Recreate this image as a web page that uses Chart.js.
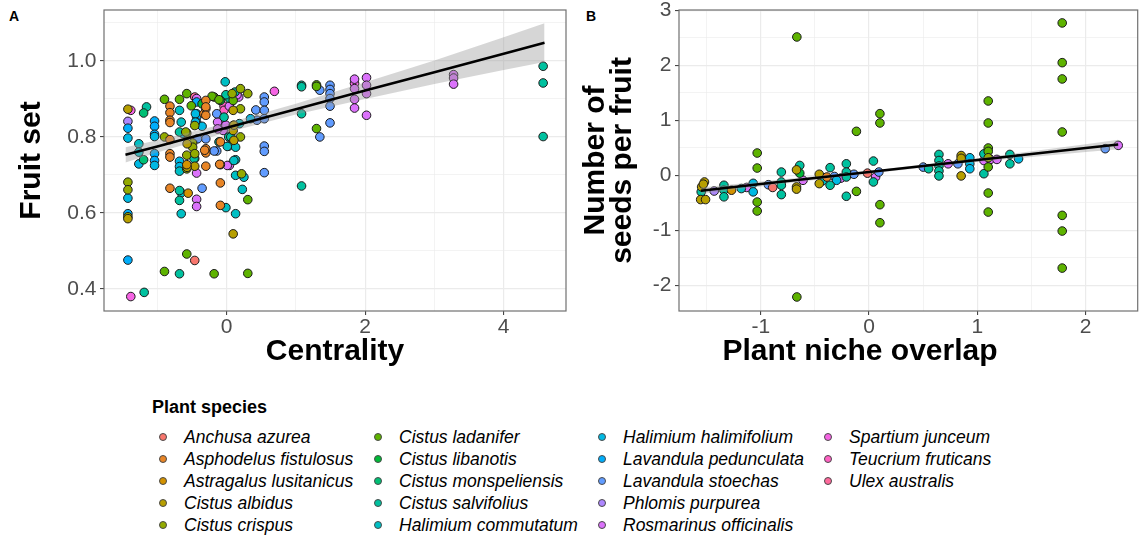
<!DOCTYPE html>
<html>
<head>
<meta charset="utf-8">
<script src="https://cdn.jsdelivr.net/npm/chart.js@4.4.0/dist/chart.umd.min.js"></script>
<style>
  body { margin: 0; background: #fff; width: 1143px; height: 540px; position: relative; overflow: hidden;
         font-family: "Liberation Sans", Arial, sans-serif; }
  canvas { position: absolute; top: 0; }
  #chartA { left: 0; }
  #chartB { left: 572px; }
  .tag { position: absolute; top: 9px; font-weight: bold; font-size: 14px; line-height: 14px; }
  .lg-title { position: absolute; left: 152px; top: 396px; font-weight: bold; font-size: 18px; line-height: 22px; }
  .lg-item { position: absolute; font-style: italic; font-size: 17.5px; line-height: 22px; white-space: nowrap; color: #000; }
  .lg-dot { position: absolute; left: -25px; top: 7.5px; width: 6px; height: 6px; border-radius: 50%; border: 1px solid #4a4a4a; }
</style>
</head>
<body>
<div class="tag" style="left:9px">A</div>
<div class="tag" style="left:586px">B</div>
<canvas id="chartA" width="572" height="385"></canvas>
<canvas id="chartB" width="571" height="385"></canvas>
<div class="lg-title">Plant species</div>
<div id="legend"></div>

<script>
const species = [
  "Anchusa azurea", "Asphodelus fistulosus", "Astragalus lusitanicus", "Cistus albidus", "Cistus crispus",
  "Cistus ladanifer", "Cistus libanotis", "Cistus monspeliensis", "Cistus salvifolius", "Halimium commutatum",
  "Halimium halimifolium", "Lavandula pedunculata", "Lavandula stoechas", "Phlomis purpurea", "Rosmarinus officinalis",
  "Spartium junceum", "Teucrium fruticans", "Ulex australis"
];

// panel A: [centrality, fruit set, species index]
const panelA = [
  [-1.425,0.873,3],[-1.383,0.870,15],[-1.425,0.841,13],[-1.425,0.823,11],[-1.425,0.797,10],
  [-1.425,0.681,4],[-1.425,0.661,4],[-1.425,0.639,10],[-1.425,0.598,11],[-1.425,0.590,4],[-1.425,0.585,3],[-1.425,0.476,11],[-1.383,0.380,15],
  [-1.267,0.782,9],[-1.267,0.760,9],[-1.267,0.729,10],[-1.198,0.740,7],[-1.198,0.863,7],[-1.156,0.879,8],[-1.190,0.391,8],
  [-1.040,0.842,11],[-1.040,0.828,11],[-1.040,0.807,11],[-1.040,0.801,10],[-1.040,0.756,11],[-1.040,0.738,11],[-1.040,0.725,10],
  [-0.897,0.899,5],[-0.897,0.800,4],[-0.897,0.446,5],
  [-0.818,0.881,1],[-0.818,0.864,1],[-0.818,0.844,1],[-0.818,0.838,1],[-0.818,0.793,1],[-0.818,0.756,1],[-0.818,0.747,1],[-0.818,0.665,1],
  [-0.680,0.899,5],[-0.680,0.870,9],[-0.655,0.839,9],[-0.680,0.813,8],[-0.630,0.809,10],[-0.680,0.736,10],[-0.680,0.722,10],[-0.680,0.710,9],
  [-0.680,0.659,8],[-0.655,0.653,9],[-0.680,0.633,8],[-0.655,0.598,9],[-0.680,0.440,8],
  [-0.575,0.914,5],[-0.575,0.810,4],[-0.575,0.752,4],[-0.575,0.727,2],[-0.575,0.716,4],[-0.555,0.652,2],[-0.575,0.492,5],
  [-0.510,0.882,5],[-0.490,0.784,4],[-0.460,0.905,17],[-0.433,0.901,14],[-0.433,0.892,11],[-0.433,0.861,11],[-0.433,0.852,11],[-0.433,0.839,11],
  [-0.460,0.830,4],[-0.490,0.773,4],[-0.460,0.756,4],[-0.460,0.743,8],[-0.460,0.723,3],[-0.433,0.705,14],[-0.433,0.636,14],[-0.433,0.617,14],[-0.460,0.475,0],
  [-0.354,0.887,6],[-0.327,0.861,1],[-0.300,0.896,1],[-0.300,0.874,1],[-0.354,0.828,10],[-0.300,0.795,12],[-0.300,0.769,1],[-0.300,0.758,1],
  [-0.300,0.723,1],[-0.354,0.665,12],[-0.180,0.905,5],[-0.180,0.440,5],
  [-0.142,0.861,12],[-0.142,0.763,12],[-0.090,0.896,6],[-0.090,0.787,1],[-0.090,0.727,1],[-0.090,0.679,1],[-0.090,0.620,1],[-0.037,0.881,16],
  [-0.037,0.870,16],[-0.037,0.852,8],[-0.037,0.833,14],[-0.050,0.817,14],[-0.020,0.945,9],[-0.010,0.614,9],
  [0.040,0.902,8],[0.040,0.881,14],[0.030,0.800,8],[0.030,0.776,9],[0.040,0.725,14],[0.095,0.896,5],[0.095,0.870,3],[0.095,0.830,3],[0.095,0.817,3],
  [0.095,0.545,3],[0.120,0.918,8],[0.130,0.773,9],[0.130,0.740,9],[0.130,0.699,9],[0.130,0.598,9],[0.175,0.905,14],[0.185,0.835,9],[0.200,0.927,4],
  [0.200,0.874,4],[0.200,0.800,4],[0.216,0.703,4],[0.227,0.662,9],[0.306,0.914,4],[0.306,0.635,5],[0.306,0.441,5],
  [-0.210,0.907,5],[-0.110,0.898,5],[-0.010,0.911,8],[0.080,0.914,4],[0.150,0.911,14],[-0.450,0.861,10],[-0.450,0.839,10],[-0.300,0.879,1],
  [-0.300,0.857,1],[-0.130,0.839,14],[-0.130,0.821,14],[-0.010,0.831,14],[0.105,0.831,3],[0.060,0.800,8],[0.345,0.848,10],[-0.590,0.813,4],
  [-0.570,0.782,3],[-0.420,0.795,12],[-0.317,0.765,1],[-0.180,0.763,12],[-0.110,0.787,8],[0.010,0.775,9],[0.105,0.791,3],[-0.470,0.743,8],
  [-0.570,0.720,3],[-0.100,0.728,1],[0.010,0.725,14],[0.105,0.738,9],[0.250,0.694,9],
  [0.422,0.871,12],[0.438,0.844,12],[0.544,0.905,12],[0.544,0.892,12],[0.544,0.870,12],[0.544,0.848,12],[0.544,0.776,12],[0.544,0.762,12],
  [0.544,0.706,12],[0.690,0.920,15],
  [1.082,0.936,8],[1.082,0.932,8],[1.082,0.861,8],[1.082,0.671,8],
  [1.298,0.937,5],[1.298,0.933,5],[1.298,0.822,5],[1.346,0.800,12],[1.346,0.923,12],
  [1.493,0.936,12],[1.493,0.925,12],[1.493,0.914,12],[1.493,0.901,12],[1.493,0.881,12],[1.493,0.837,12],
  [1.847,0.952,14],[1.847,0.941,15],[1.847,0.927,14],[1.847,0.899,14],[1.847,0.876,14],
  [2.020,0.956,14],[2.020,0.936,14],[2.020,0.914,14],[2.020,0.857,14],
  [3.277,0.964,14],[3.277,0.955,14],[3.277,0.939,14],
  [4.570,0.986,8],[4.570,0.942,8],[4.570,0.801,8]
];

// panel B: [plant niche overlap, seeds per fruit, species index]
const panelB = [
  [-0.667,2.515,5],[-0.667,-2.210,5],[-1.033,0.406,5],[-1.033,0.133,5],[-1.033,-0.485,5],[-1.033,-0.648,5],[-0.117,0.800,5],[-0.117,-0.291,5],
  [0.100,1.121,5],[0.100,0.952,5],[0.100,-0.533,5],[0.100,-0.861,5],[1.100,1.352,5],[1.100,0.952,5],[1.100,0.497,5],[1.100,0.436,5],
  [1.100,0.152,5],[1.100,-0.321,5],[1.100,-0.667,5],[1.783,2.770,5],[1.783,2.048,5],[1.783,1.752,5],[1.783,0.788,5],[1.783,-0.727,5],
  [1.783,-1.012,5],[1.783,-1.685,5],
  [-1.520,-0.120,3],[-1.546,-0.210,3],[-1.555,-0.440,3],[-1.510,-0.440,3],[-1.530,-0.160,3],[-1.550,-0.300,8],
  [-1.430,-0.285,13],[-1.340,-0.180,8],[-1.340,-0.270,8],[-1.340,-0.390,8],[-1.270,-0.270,2],[-1.180,-0.240,9],[-1.130,-0.220,14],
  [-1.070,-0.145,10],[-1.070,-0.300,10],
  [-0.930,-0.170,12],[-0.890,-0.220,0],[-0.810,0.060,8],[-0.810,-0.120,8],[-0.810,-0.180,8],[-0.810,-0.350,8],
  [-0.670,0.100,3],[-0.670,-0.210,3],[-0.670,-0.250,3],[-0.640,0.180,8],[-0.640,0.040,6],[-0.610,-0.090,14],
  [-0.460,0.020,3],[-0.460,-0.150,3],[-0.430,-0.100,9],[-0.390,-0.030,1],[-0.360,0.140,8],[-0.360,-0.180,8],[-0.320,-0.020,12],
  [-0.300,-0.090,10],[-0.260,-0.050,14],
  [-0.210,0.210,8],[-0.210,0.060,8],[-0.210,-0.030,8],[-0.210,-0.380,8],[-0.140,0.020,12],[-0.015,0.040,0],[0.060,-0.030,14],
  [0.040,0.260,8],[0.040,-0.120,8],[0.090,0.060,12],
  [0.500,0.150,12],[0.550,0.120,8],[0.645,0.380,8],[0.645,0.270,8],[0.645,0.170,8],[0.645,0.080,8],[0.645,-0.010,8],[0.730,0.210,14],
  [0.820,0.210,12],[0.850,0.360,3],[0.850,0.310,3],[0.850,-0.010,3],[0.930,0.320,10],[0.930,0.210,10],[0.930,0.120,10],
  [1.060,0.390,8],[1.060,0.030,8],[1.060,0.270,14],[1.120,0.290,14],[1.100,0.320,4],[1.180,0.290,14],[1.300,0.380,8],[1.300,0.210,8],
  [1.380,0.300,10],[2.180,0.485,12],[2.300,0.545,14]
];

// fitted lines and confidence bands
const fitAx  = [-1.46, -1, 0, 1, 2, 3, 4, 4.59];
const fitAy  = [0.753, 0.775, 0.824, 0.873, 0.922, 0.970, 1.019, 1.048];
const fitAhi = [0.773, 0.791, 0.836, 0.887, 0.944, 1.001, 1.062, 1.099];
const fitAlo = [0.733, 0.759, 0.812, 0.859, 0.900, 0.939, 0.976, 0.997];

const fitBx  = [-1.553, -1, 0, 1, 2, 2.30];
const fitBy  = [-0.279, -0.158, 0.060, 0.278, 0.496, 0.561];
const fitBhi = [-0.219, -0.113, 0.085, 0.313, 0.566, 0.646];
const fitBlo = [-0.339, -0.203, 0.035, 0.243, 0.426, 0.476];

// ggplot default hue palette (hcl, c=100, l=65)
function hcl(h) {
  const l = 65, c = 100, hr = h * Math.PI / 180;
  const Y = 100 * Math.pow((l + 16) / 116, 3);
  const Xn = 95.047, Yn = 100, Zn = 108.883;
  const den = Xn + 15 * Yn + 3 * Zn;
  const u = c * Math.cos(hr) / (13 * l) + 4 * Xn / den;
  const v = c * Math.sin(hr) / (13 * l) + 9 * Yn / den;
  const X = 9 * Y * u / (4 * v);
  const Z = -X / 3 - 5 * Y + 3 * Y / v;
  const x = X / 100, y = Y / 100, z = Z / 100;
  const lin = [3.240479 * x - 1.537150 * y - 0.498535 * z,
              -0.969256 * x + 1.875992 * y + 0.041556 * z,
               0.055648 * x - 0.204043 * y + 1.057311 * z];
  const rgb = lin.map(t => {
    const g = t <= 0.0031308 ? 12.92 * t : 1.055 * Math.pow(t, 1 / 2.4) - 0.055;
    return Math.round(Math.min(1, Math.max(0, g)) * 255);
  });
  return `rgb(${rgb[0]},${rgb[1]},${rgb[2]})`;
}
const colors = species.map((_, i) => hcl(15 + 360 / species.length * i));

const FONT = '"Liberation Sans", Arial, sans-serif';
Chart.defaults.font.family = FONT;
Chart.defaults.animation = false;

const isMajor = (v, step) => Math.abs(v / step - Math.round(v / step)) < 1e-6;

function axis(o) {
  return {
    type: 'linear', position: o.pos, min: o.min, max: o.max,
    afterFit: s => {
      if (o.pos === 'left') s.width = o.size; else s.height = o.size;
      s.paddingTop = s.paddingBottom = s.paddingLeft = s.paddingRight = 0;
    },
    title: { display: !!o.title, text: o.title, color: '#000', padding: o.titlePad,
             font: { size: 30, weight: 'bold', lineHeight: o.lh } },
    ticks: {
      stepSize: o.minor, includeBounds: false, maxTicksLimit: 50, autoSkip: false, maxRotation: 0,
      color: '#4d4d4d', font: { size: 21, lineHeight: 1 }, padding: o.tickPad,
      callback: v => isMajor(v, o.major) ? o.fmt(v) : ''
    },
    grid: {
      color: '#ebebeb',
      lineWidth: c => isMajor(c.tick.value, o.major) ? 1.2 : 0.6,
      drawTicks: true, tickLength: 4, tickWidth: 1,
      tickColor: c => isMajor(c.tick.value, o.major) ? '#333' : 'rgba(0,0,0,0)'
    },
    border: { display: false }
  };
}

const frame = {
  id: 'frame',
  afterDatasetsDraw(chart) {
    const { ctx, chartArea: a } = chart;
    ctx.save();
    ctx.strokeStyle = '#707070';
    ctx.lineWidth = 1.2;
    ctx.strokeRect(a.left, a.top, a.right - a.left, a.bottom - a.top);
    ctx.restore();
  }
};

// x title of panel B sits left of the panel centre in the reference
const freeTitle = {
  id: 'freeTitle',
  afterDraw(chart, args, opts) {
    if (!opts.text) return;
    const ctx = chart.ctx;
    ctx.save();
    ctx.font = `bold ${opts.size}px ${FONT}`;
    ctx.fillStyle = '#000';
    ctx.textAlign = 'center';
    ctx.textBaseline = 'middle';
    ctx.fillText(opts.text, opts.x, opts.y);
    ctx.restore();
  }
};

function datasets(points, fx, fy, flo, fhi) {
  const ds = species.map((name, i) => ({
    label: name,
    data: points.filter(p => p[2] === i).map(p => ({ x: p[0], y: p[1] })),
    backgroundColor: colors[i], borderColor: '#1a1a1a', borderWidth: 1,
    pointRadius: 4.3, order: 3
  }));
  const xy = arr => fx.map((x, i) => ({ x, y: arr[i] }));
  ds.push({ type: 'line', data: xy(fhi), borderWidth: 0, pointRadius: 0,
            backgroundColor: 'rgba(153,153,153,0.4)', fill: '+1', order: 2 });
  ds.push({ type: 'line', data: xy(flo), borderWidth: 0, pointRadius: 0, fill: false, order: 2 });
  ds.push({ type: 'line', data: xy(fy), borderColor: '#000', borderWidth: 2.5, pointRadius: 0,
            fill: false, order: 1 });
  return ds;
}

function panel(id, points, fit, xo, yo, padRight, free) {
  return new Chart(document.getElementById(id), {
    type: 'scatter',
    data: { datasets: datasets(points, ...fit) },
    options: {
      responsive: false,
      layout: { padding: { left: 0, top: 10, right: padRight, bottom: 0 } },
      plugins: { legend: { display: false }, tooltip: { enabled: false }, freeTitle: free || {} },
      scales: { x: axis(xo), y: axis(yo) }
    },
    plugins: [frame, freeTitle]
  });
}

panel('chartA', panelA, [fitAx, fitAy, fitAlo, fitAhi],
  { pos: 'bottom', min: -1.77, max: 4.90, minor: 1, major: 2, size: 74, title: 'Centrality', lh: 1.2,
    titlePad: { top: 0, bottom: 15 }, tickPad: 2, fmt: v => String(v) },
  { pos: 'left', min: 0.342, max: 1.134, minor: 0.1, major: 0.2, size: 104, title: 'Fruit set', lh: 1.2,
    titlePad: { top: 13.5, bottom: 0 }, tickPad: 3.5, fmt: v => v.toFixed(1) }, 6);

panel('chartB', panelB, [fitBx, fitBy, fitBlo, fitBhi],
  { pos: 'bottom', min: -1.755, max: 2.48, minor: 0.5, major: 1, size: 74, title: '', lh: 1.2,
    titlePad: { top: 0, bottom: 15 }, tickPad: 2, fmt: v => String(v) },
  { pos: 'left', min: -2.465, max: 3.005, minor: 0.5, major: 1, size: 107, title: ['Number of', 'seeds per fruit'], lh: 0.9,
    titlePad: { top: 10, bottom: 0 }, tickPad: 3.5, fmt: v => String(v) }, 1,
  { text: 'Plant niche overlap', size: 30, x: 288, y: 352 });

// legend: 4 columns, 5 rows, column-major
const legend = document.getElementById('legend');
const colLeft = [184, 399, 623, 849];
species.forEach((name, i) => {
  const item = document.createElement('div');
  item.className = 'lg-item';
  item.style.left = colLeft[Math.floor(i / 5)] + 'px';
  item.style.top = (425.5 + (i % 5) * 22) + 'px';
  const dot = document.createElement('span');
  dot.className = 'lg-dot';
  dot.style.background = colors[i];
  item.appendChild(dot);
  item.appendChild(document.createTextNode(name));
  legend.appendChild(item);
});
</script>
</body>
</html>
